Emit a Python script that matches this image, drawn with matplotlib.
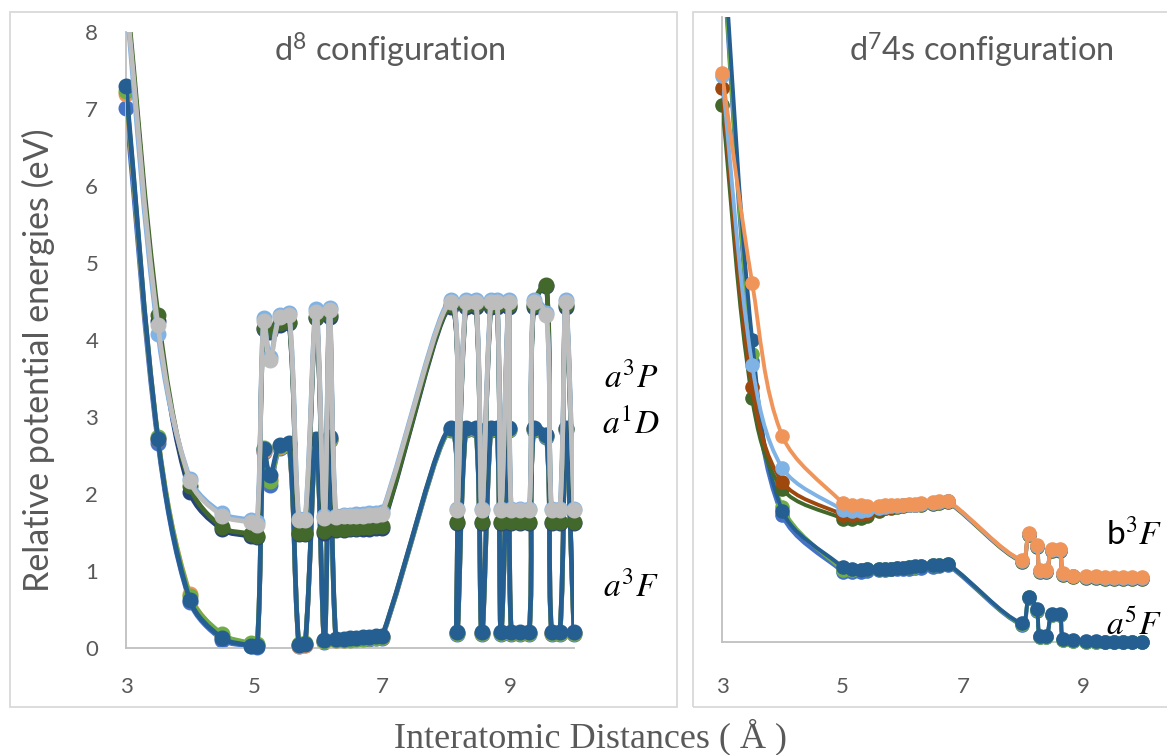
import numpy as np
import matplotlib
matplotlib.use('Agg')
import matplotlib.pyplot as plt
from matplotlib.path import Path
from matplotlib.patches import PathPatch, Rectangle

W, H = 1167, 755

# ---------------- d8 configuration (left panel) ----------------
x_d8 = [3.0, 3.5, 4.0, 4.5, 4.95, 5.05, 5.15, 5.25, 5.4, 5.55, 5.7, 5.8, 5.97, 6.1, 6.18,
        6.28, 6.4, 6.5, 6.6, 6.7, 6.8, 6.9, 7.0,
        8.08, 8.17, 8.31, 8.47, 8.56, 8.7, 8.8, 8.86, 8.98, 9.02, 9.15, 9.3, 9.37, 9.57,
        9.65, 9.78, 9.87, 10.0]

# upper states (a3P / a1D)
navy_d8 = [8.5, 4.25, 2.02, 1.54, 1.45, 1.44, 4.14, 4.10, 4.20, 4.22, 1.48, 1.48, 4.28, 1.50, 4.30,
           1.53, 1.53, 1.54, 1.54, 1.55, 1.55, 1.56, 1.56,
           4.43, 1.62, 4.43, 4.43, 1.62, 4.43, 4.43, 1.62, 4.43, 1.62, 1.62, 1.62, 4.43, 4.70,
           1.62, 1.62, 4.43, 1.62]
dkgreen_d8 = [8.6, 4.33, 2.10, 1.57, 1.48, 1.46, 4.16, 4.13, 4.22, 4.24, 1.50, 1.50, 4.30, 1.52, 4.32,
              1.55, 1.55, 1.56, 1.56, 1.57, 1.57, 1.58, 1.58,
              4.45, 1.64, 4.45, 4.45, 1.64, 4.45, 4.45, 1.64, 4.45, 1.64, 1.64, 1.64, 4.45, 4.72,
              1.64, 1.64, 4.45, 1.64]
ltblue_d8 = [8.4, 4.08, 2.20, 1.75, 1.66, 1.63, 4.28, 3.78, 4.33, 4.35, 1.68, 1.68, 4.40, 1.71, 4.42,
             1.72, 1.73, 1.73, 1.74, 1.74, 1.75, 1.75, 1.76,
             4.52, 1.81, 4.52, 4.52, 1.81, 4.52, 4.52, 1.81, 4.52, 1.81, 1.81, 1.81, 4.52, 4.35,
             1.81, 1.81, 4.52, 1.81]
grey_d8 = [8.5, 4.19, 2.17, 1.72, 1.63, 1.60, 4.25, 3.74, 4.30, 4.32, 1.66, 1.66, 4.37, 1.69, 4.39,
           1.70, 1.71, 1.71, 1.72, 1.72, 1.73, 1.73, 1.74,
           4.49, 1.79, 4.49, 4.49, 1.79, 4.49, 4.49, 1.79, 4.49, 1.79, 1.79, 1.79, 4.49, 4.32,
           1.79, 1.79, 4.49, 1.79]

# lower state (a3F)
royal_d8 = [7.01, 2.66, 0.60, 0.11, 0.02, 0.01, 2.55, 2.12, 2.60, 2.62, 0.03, 0.04, 2.68, 0.08, 2.70,
            0.10, 0.10, 0.11, 0.11, 0.12, 0.12, 0.13, 0.13,
            2.83, 0.18, 2.83, 2.83, 0.18, 2.83, 2.83, 0.18, 2.83, 0.18, 0.18, 0.18, 2.83, 2.74,
            0.18, 0.18, 2.83, 0.18]
orange_d8 = [7.20, 2.72, 0.70, 0.16, 0.05, 0.04, 2.56, 2.20, 2.61, 2.63, 0.03, 0.04, 2.69, 0.09, 2.71,
             0.11, 0.11, 0.12, 0.12, 0.13, 0.13, 0.14, 0.14,
             2.85, 0.20, 2.85, 2.85, 0.20, 2.85, 2.85, 0.20, 2.85, 0.20, 0.20, 0.20, 2.85, 2.76,
             0.20, 0.20, 2.85, 0.20]
ltgreen_d8 = [7.24, 2.74, 0.68, 0.18, 0.06, 0.05, 2.60, 2.17, 2.62, 2.64, 0.05, 0.06, 2.70, 0.09, 2.72,
              0.10, 0.11, 0.11, 0.12, 0.12, 0.13, 0.13, 0.14,
              2.84, 0.19, 2.84, 2.84, 0.19, 2.84, 2.84, 0.19, 2.84, 0.19, 0.19, 0.19, 2.84, 2.75,
              0.19, 0.19, 2.84, 0.19]
dkblue_d8 = [7.30, 2.71, 0.62, 0.13, 0.03, 0.02, 2.58, 2.25, 2.64, 2.66, 0.04, 0.05, 2.72, 0.10, 2.74,
             0.12, 0.12, 0.13, 0.13, 0.14, 0.14, 0.15, 0.15,
             2.86, 0.21, 2.86, 2.86, 0.21, 2.86, 2.86, 0.21, 2.86, 0.21, 0.21, 0.21, 2.86, 2.77,
             0.21, 0.21, 2.86, 0.21]

# ---------------- d7 4s configuration (right panel) ----------------
x_d7 = [3.0, 3.5, 4.0, 5.0, 5.15, 5.3, 5.4, 5.6, 5.7, 5.8, 5.9, 6.0, 6.1, 6.2, 6.3, 6.5, 6.6, 6.75,
        7.97, 8.09, 8.22, 8.27, 8.38, 8.47, 8.6, 8.66, 8.82, 9.03, 9.2, 9.35, 9.5, 9.65, 9.8, 9.97]

# lower state (a5F)
royal_d7 = [8.9, 3.60, 1.62, 0.90, 0.90, 0.90, 0.91, 0.92, 0.92, 0.93, 0.93, 0.94, 0.94, 0.95, 0.95,
            0.96, 0.97, 0.98,
            0.22, 0.56, 0.40, 0.06, 0.06, 0.34, 0.34, 0.03, 0.01, 0.0, 0.0, 0.0, 0.0, 0.0, 0.0, 0.0]
ltgreen_d7 = [9.0, 3.69, 1.73, 0.92, 0.92, 0.92, 0.93, 0.93, 0.94, 0.94, 0.95, 0.95, 0.96, 0.96, 0.97,
              0.98, 0.99, 1.00,
              0.23, 0.57, 0.41, 0.07, 0.07, 0.35, 0.35, 0.03, 0.01, 0.0, 0.0, 0.0, 0.0, 0.0, 0.0, 0.0]
dkblue_d7 = [9.2, 3.87, 1.68, 0.96, 0.93, 0.92, 0.93, 0.93, 0.94, 0.94, 0.95, 0.95, 0.96, 0.97, 0.97,
             0.98, 0.99, 1.00,
             0.24, 0.58, 0.42, 0.08, 0.08, 0.36, 0.36, 0.04, 0.02, 0.01, 0.01, 0.0, 0.0, 0.0, 0.0, 0.0]

# upper state (b3F)
dkgreen_d7 = [6.88, 3.12, 1.96, 1.58, 1.58, 1.59, 1.61, 1.68, 1.71, 1.72, 1.73, 1.74, 1.75, 1.75, 1.76,
              1.77, 1.78, 1.79,
              1.03, 1.37, 1.22, 0.90, 0.90, 1.17, 1.17, 0.86, 0.83, 0.82, 0.82, 0.81, 0.81, 0.81, 0.81, 0.81]
dkred_d7 = [7.09, 3.26, 2.05, 1.63, 1.63, 1.64, 1.65, 1.70, 1.72, 1.73, 1.74, 1.75, 1.76, 1.76, 1.77,
            1.78, 1.79, 1.80,
            1.04, 1.38, 1.23, 0.91, 0.91, 1.18, 1.18, 0.87, 0.84, 0.83, 0.83, 0.82, 0.82, 0.82, 0.82, 0.82]
ltblue_d7 = [7.24, 3.55, 2.23, 1.69, 1.68, 1.68, 1.69, 1.71, 1.73, 1.74, 1.74, 1.75, 1.76, 1.76, 1.77,
             1.78, 1.79, 1.80,
             1.04, 1.38, 1.23, 0.91, 0.91, 1.18, 1.18, 0.87, 0.84, 0.83, 0.83, 0.82, 0.82, 0.82, 0.82, 0.82]
orange_d7 = [7.28, 4.60, 2.64, 1.78, 1.76, 1.75, 1.74, 1.74, 1.75, 1.75, 1.76, 1.76, 1.77, 1.77, 1.78,
             1.79, 1.80, 1.81,
             1.05, 1.39, 1.24, 0.92, 0.92, 1.19, 1.19, 0.88, 0.85, 0.84, 0.84, 0.83, 0.83, 0.83, 0.83, 0.83]

C_DKBLUE = '#255E91'
C_ROYAL = '#4472C4'
C_LTBLUE = '#7FB2E5'
C_ORANGE = '#F0955A'
C_LTGREEN = '#70AD47'
C_DKGREEN = '#43682B'
C_GREY = '#BDBDBD'
C_NAVY = '#264478'
C_DKRED = '#9E480E'
TXT = '#595959'

plt.rcParams['mathtext.fontset'] = 'custom'
plt.rcParams['mathtext.rm'] = 'Lato'
plt.rcParams['mathtext.it'] = 'Lato:italic'


def smooth_path(x, y, sx, sy):
    """ smoothed line like the spreadsheet one: cubic bezier through every point,
    tangent arms weighted by the neighbouring segment lengths (in pixels) """
    pts = np.column_stack([x, y]).astype(float)
    scr = pts * [sx, sy]
    n = len(pts)

    def seg(i, j):
        return np.hypot(*(scr[j] - scr[i]))

    verts = [pts[0]]
    codes = [Path.MOVETO]
    for i in range(n - 1):
        i0 = max(i - 1, 0)
        i3 = min(i + 2, n - 1)
        d01 = seg(i0, i)
        d12 = seg(i, i + 1)
        d23 = seg(i + 1, i3)
        w1 = d12 / (d01 + d12) if d01 + d12 > 0 else 0.5
        w2 = d12 / (d12 + d23) if d12 + d23 > 0 else 0.5
        c1 = pts[i] + (pts[i + 1] - pts[i0]) * w1 / 3.0
        c2 = pts[i + 1] - (pts[i3] - pts[i]) * w2 / 3.0
        verts += [c1, c2, pts[i + 1]]
        codes += [Path.CURVE4] * 3
    return Path(verts, codes)


def draw_series(ax, x, y, color, z, lw, ms, sx, sy):
    patch = PathPatch(smooth_path(x, y, sx, sy), fill=False, edgecolor=color, lw=lw,
                      capstyle='round', joinstyle='round', zorder=z)
    ax.add_patch(patch)
    y = np.array(y, dtype=float)
    y_mark = np.where(y <= 8.0, y, np.nan)
    ax.plot(x, y_mark, 'o', ms=ms, color=color, mec=color, clip_on=False, zorder=z + 0.5)


def style_axis(ax, xpad):
    for side in ['top', 'right']:
        ax.spines[side].set_visible(False)
    for side in ['left', 'bottom']:
        ax.spines[side].set_color('#BFBFBF')
        ax.spines[side].set_linewidth(1.3)
    ax.set_xlim(3, 10)
    ax.set_ylim(0, 8)
    ax.set_xticks([3, 5, 7, 9])
    ax.tick_params(axis='x', length=0, pad=xpad, labelsize=16, labelcolor=TXT)
    ax.set_facecolor('none')
    for lab in ax.get_xticklabels():
        lab.set_fontfamily('Lato')


fig = plt.figure(figsize=(W / 100, H / 100), dpi=100)

# chart frames
fig.patches.append(Rectangle((10 / W, 1 - 707 / H), 667 / W, 695 / H, transform=fig.transFigure,
                             fill=False, edgecolor='#D9D9D9', lw=1.3))
fig.patches.append(Rectangle((693 / W, 1 - 707 / H), 480 / W, 695 / H, transform=fig.transFigure,
                             fill=False, edgecolor='#D9D9D9', lw=1.3))

# left panel
ax1 = fig.add_axes([126 / W, 1 - 648 / H, 448 / W, 616 / H])
style_axis(ax1, 21)
ax1.set_yticks(range(0, 9))
ax1.tick_params(axis='y', length=0, pad=20, labelsize=16, labelcolor=TXT)
for lab in ax1.get_yticklabels():
    lab.set_fontfamily('Lato')

left_series = [(royal_d8, C_ROYAL), (orange_d8, C_ORANGE), (ltgreen_d8, C_LTGREEN),
               (dkblue_d8, C_DKBLUE), (navy_d8, C_NAVY), (dkgreen_d8, C_DKGREEN),
               (ltblue_d8, C_LTBLUE), (grey_d8, C_GREY)]
for k, (vals, col) in enumerate(left_series):
    draw_series(ax1, x_d8, vals, col, 2 + k, 3.4, 10.5, 64.0, 77.0)

# right panel
ax2 = fig.add_axes([722 / W, 1 - 642 / H, 422 / W, 625 / H])
style_axis(ax2, 25)
ax2.set_yticks([])

right_series = [(royal_d7, C_ROYAL), (ltgreen_d7, C_LTGREEN), (dkblue_d7, C_DKBLUE),
                (dkgreen_d7, C_DKGREEN), (dkred_d7, C_DKRED), (ltblue_d7, C_LTBLUE),
                (orange_d7, C_ORANGE)]
for k, (vals, col) in enumerate(right_series):
    draw_series(ax2, x_d7, vals, col, 2 + k, 2.8, 9.5, 60.3, 78.0)

# titles and labels
fig.text(390 / W, 1 - 50 / H, r'd$^{8}$ configuration', ha='center', va='center',
         fontsize=23.5, color=TXT, family='Lato')
fig.text(981 / W, 1 - 50 / H, r'd$^{7}$4s configuration', ha='center', va='center',
         fontsize=23.5, color=TXT, family='Lato')

state_kw = dict(ha='center', va='center', fontsize=24, color='black', math_fontfamily='stix')
fig.text(631 / W, 1 - 378 / H, r'$a^3P$', **state_kw)
fig.text(631 / W, 1 - 425 / H, r'$a^1D$', **state_kw)
fig.text(631 / W, 1 - 587 / H, r'$a^3F$', **state_kw)
fig.text(1134 / W, 1 - 534 / H, r'b$^3F$', family='Lato', **state_kw)
fig.text(1134 / W, 1 - 626 / H, r'$a^5F$', **state_kw)

fig.text(38 / W, 1 - 360 / H, 'Relative potential energies (eV)', rotation=90,
         ha='center', va='center', fontsize=24.5, color=TXT, family='Lato')
fig.text(590 / W, 1 - 737 / H, 'Interatomic Distances ( Å )', ha='center', va='center',
         fontsize=26, color=TXT, family='Liberation Serif')

fig.savefig('out.png', dpi=100)
